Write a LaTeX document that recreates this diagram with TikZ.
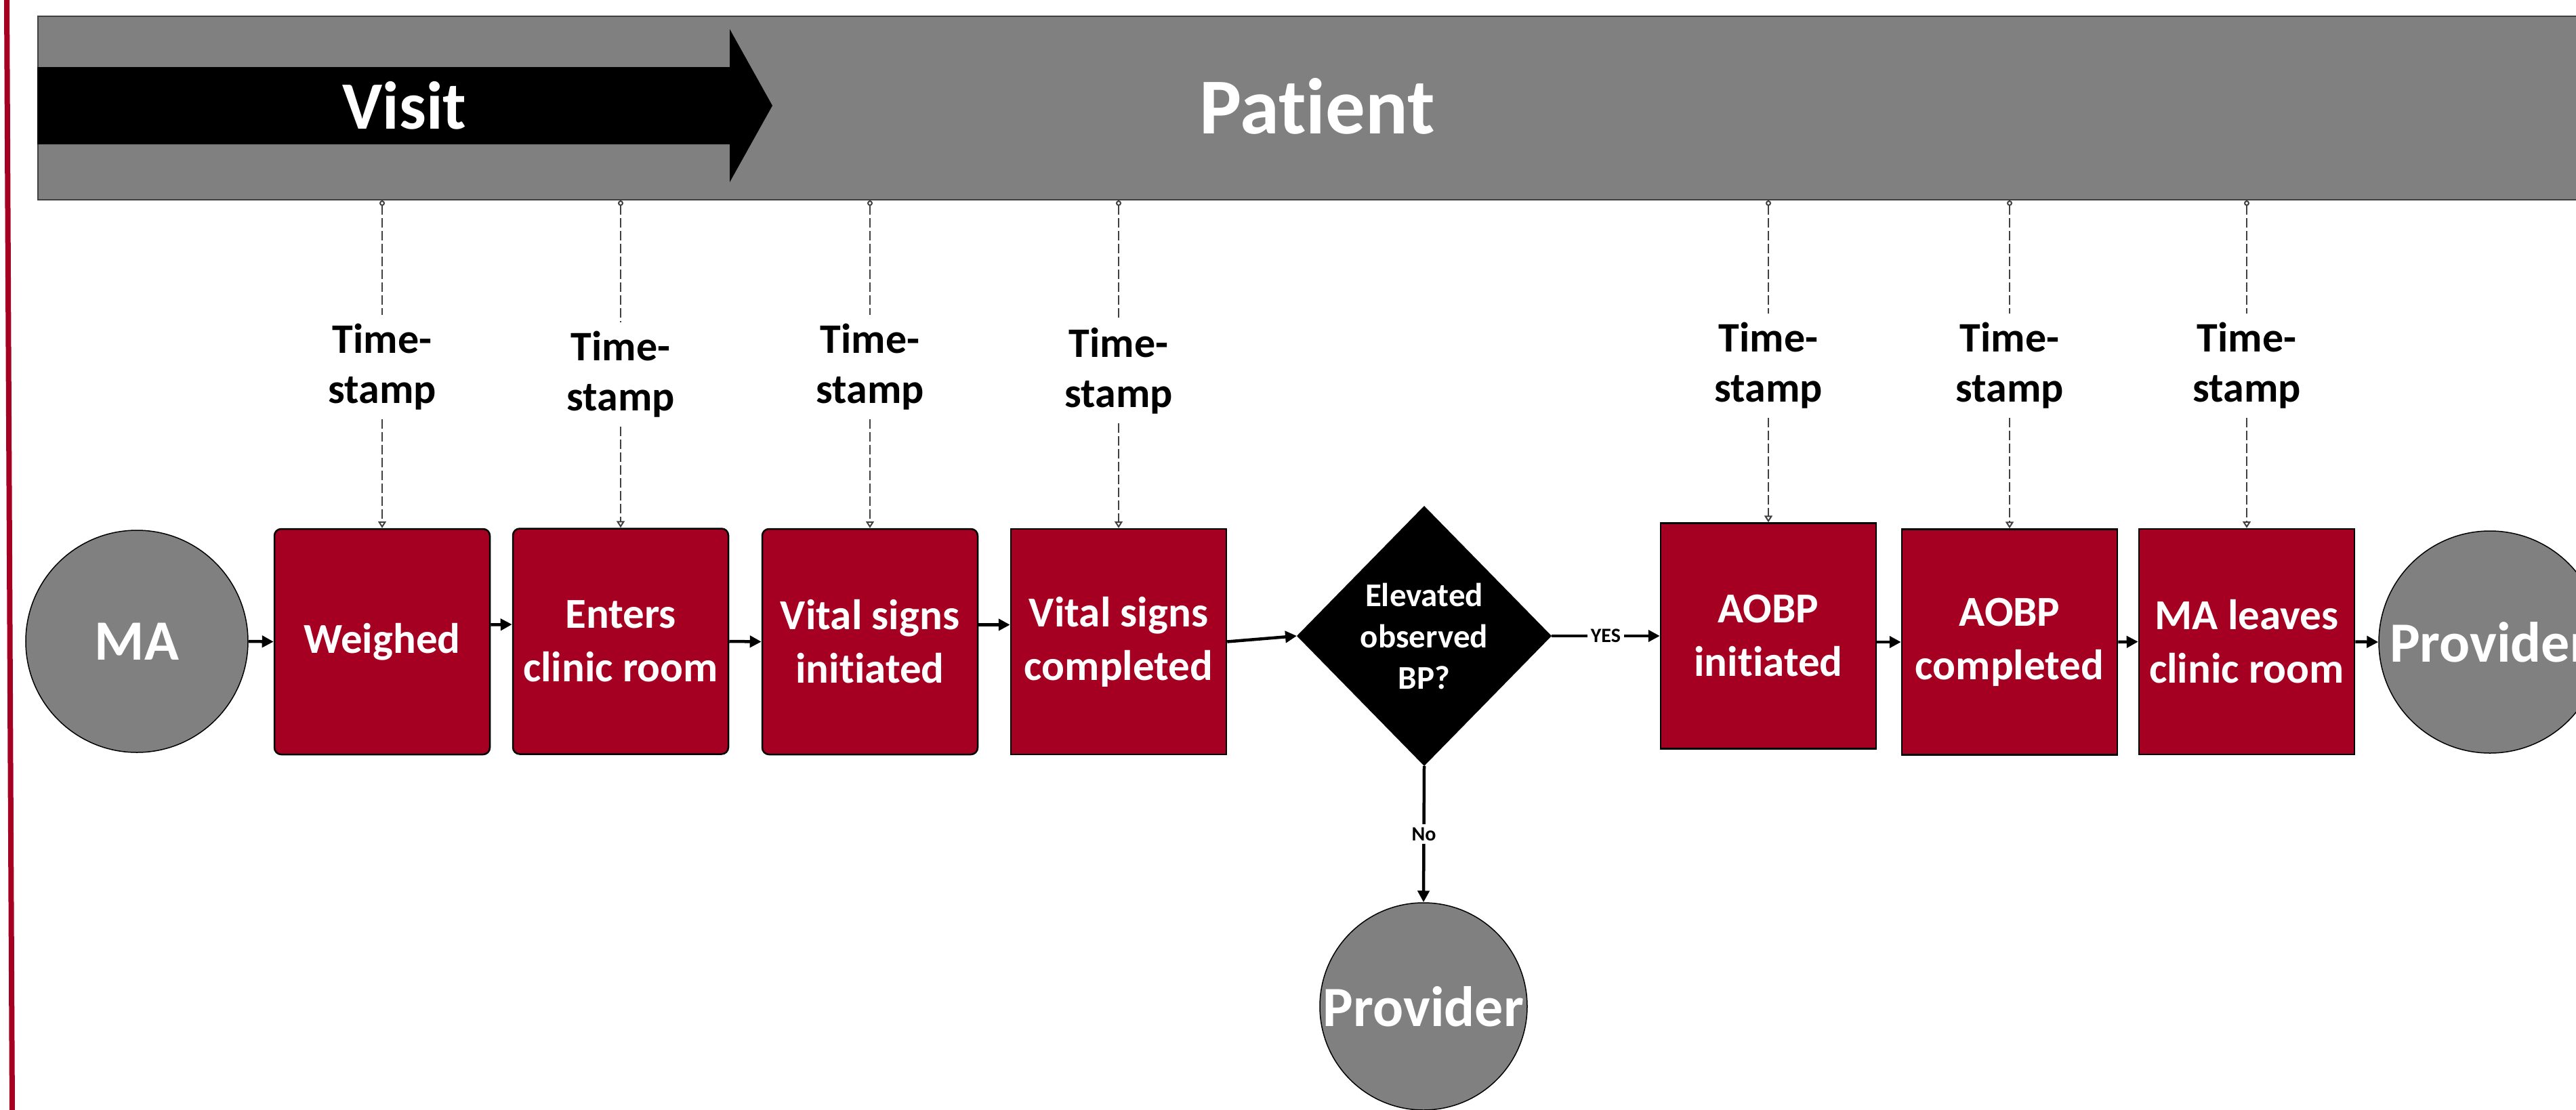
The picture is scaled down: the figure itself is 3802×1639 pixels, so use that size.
\documentclass[tikz,border=0pt]{standalone}
\usepackage{fontspec}
\setmainfont{Carlito}[Ligatures=NoCommon]
\usetikzlibrary{arrows.meta,shapes.geometric}
\definecolor{boxred}{HTML}{A50021}
\definecolor{bangray}{HTML}{808080}
\begin{document}
\begin{tikzpicture}[x=0.2pt,y=-0.2pt,
  stepbox/.style={draw=black, line width=0.5pt, fill=boxred, text=white,
    minimum width=63.6pt, minimum height=66.6pt, inner sep=0pt, align=center,
    font=\bfseries\fontsize{12.6pt}{15.8pt}\selectfont},
  roundbox/.style={stepbox, rounded corners=2pt},
  actor/.style={circle, draw=black, line width=0.3pt, fill=bangray, text=white,
    inner sep=0pt, font=\bfseries\fontsize{16.8pt}{20pt}\selectfont},
  tslabel/.style={align=center, inner sep=2.4pt,
    font=\bfseries\fontsize{12.4pt}{14.8pt}\selectfont},
  tsline/.style={draw=black!75, line width=0.4pt, dash pattern=on 2.8pt off 1pt},
  tstop/.style={tsline, {Circle[open,length=1.6pt]}-},
  tsbot/.style={tsline, -{Triangle[open,length=2pt,width=2.4pt]}},
  flow/.style={line width=0.9pt, -{Triangle[length=3.4pt,width=3.4pt]}},
  edgelabel/.style={fill=white, inner sep=1pt,
    font=\bfseries\fontsize{6pt}{7pt}\selectfont}
]
\path[use as bounding box, clip] (0,0) rectangle (3802,1639);

% left red rule
\draw[boxred, line width=1.6pt] (10,0) -- (18,1639);

% banner
\node[draw=black!75, line width=0.4pt, fill=bangray, anchor=north west,
  minimum width=752pt, minimum height=54.2pt, inner sep=0pt] (banner) at (55,23) {};
\fill[black] (55,99) -- (1077,99) -- (1077,43) -- (1140,156) -- (1077,269)
  -- (1077,213) -- (55,213) -- cycle;
\node[text=white, font=\bfseries\fontsize{20pt}{24pt}\selectfont] (visit) at (597,156) {Visit};
\node[text=white, font=\bfseries\fontsize{23.4pt}{28pt}\selectfont] (patient) at (1944,157) {Patient};

% actors
\node[actor, minimum size=65.6pt] (ma) at (202,947) {\makebox[0pt]{MA}};
\node[actor, minimum size=65.6pt] (pr) at (3675,948) {\makebox[0pt]{Provider}};
\node[actor, minimum size=61.2pt] (pr2) at (2101,1486) {\makebox[0pt]{Provider}};

% steps
\node[roundbox] (w)  at (564,947.5)  {Weighed};
\node[roundbox] (e)  at (916,947)    {Enters\\clinic room};
\node[roundbox] (v1) at (1284,947.5) {Vital signs\\initiated};
\node[stepbox]  (v2) at (1651,947.5) {Vital signs\\completed};
\node[stepbox]  (a1) at (2610,939)   {AOBP\\initiated};
\node[stepbox]  (a2) at (2966,948)   {AOBP\\completed};
\node[stepbox]  (m7) at (3316,947.5) {MA leaves\\clinic room};

% decision
\node[diamond, fill=black, draw=black, minimum width=74.8pt, minimum height=76.4pt,
  inner sep=0pt, text=white, align=center,
  font=\bfseries\fontsize{9.8pt}{12.2pt}\selectfont] (dia) at (2102,939)
  {Elevated\\observed\\BP?};

% timestamp labels
\node[tslabel] (t1) at (564,542)  {Time-\\stamp};
\node[tslabel] (t2) at (916,553)  {Time-\\stamp};
\node[tslabel] (t3) at (1284,542) {Time-\\stamp};
\node[tslabel] (t4) at (1651,548) {Time-\\stamp};
\node[tslabel] (t5) at (2610,540) {Time-\\stamp};
\node[tslabel] (t6) at (2966,540) {Time-\\stamp};
\node[tslabel] (t7) at (3316,540) {Time-\\stamp};

% timestamp connectors
\foreach \t/\b in {t1/w, t2/e, t3/v1, t4/v2, t5/a1, t6/a2, t7/m7}{
  \draw[tstop] (banner.south -| \b.north) -- (\t.north);
  \draw[tsbot] (\t.south) -- (\b.north);
}

% flow
\draw[flow] (ma.east) -- (w.west);
\draw[flow] ([yshift=5pt]w.east) -- ([yshift=5pt]e.west);
\draw[flow] (e.east) -- (v1.west);
\draw[flow] ([yshift=5pt]v1.east) -- ([yshift=5pt]v2.west);
\draw[flow] (v2.east) -- (dia.west);
\draw[flow] (dia.east) -- node[edgelabel] {YES} (a1.west);
\draw[flow] (a1.east |- a2.west) -- (a2.west);
\draw[flow] (a2.east) -- (m7.west);
\draw[flow] (m7.east) -- (pr.west);
\draw[flow] (dia.south) -- node[edgelabel] {No} (pr2.north);
\end{tikzpicture}
\end{document}
